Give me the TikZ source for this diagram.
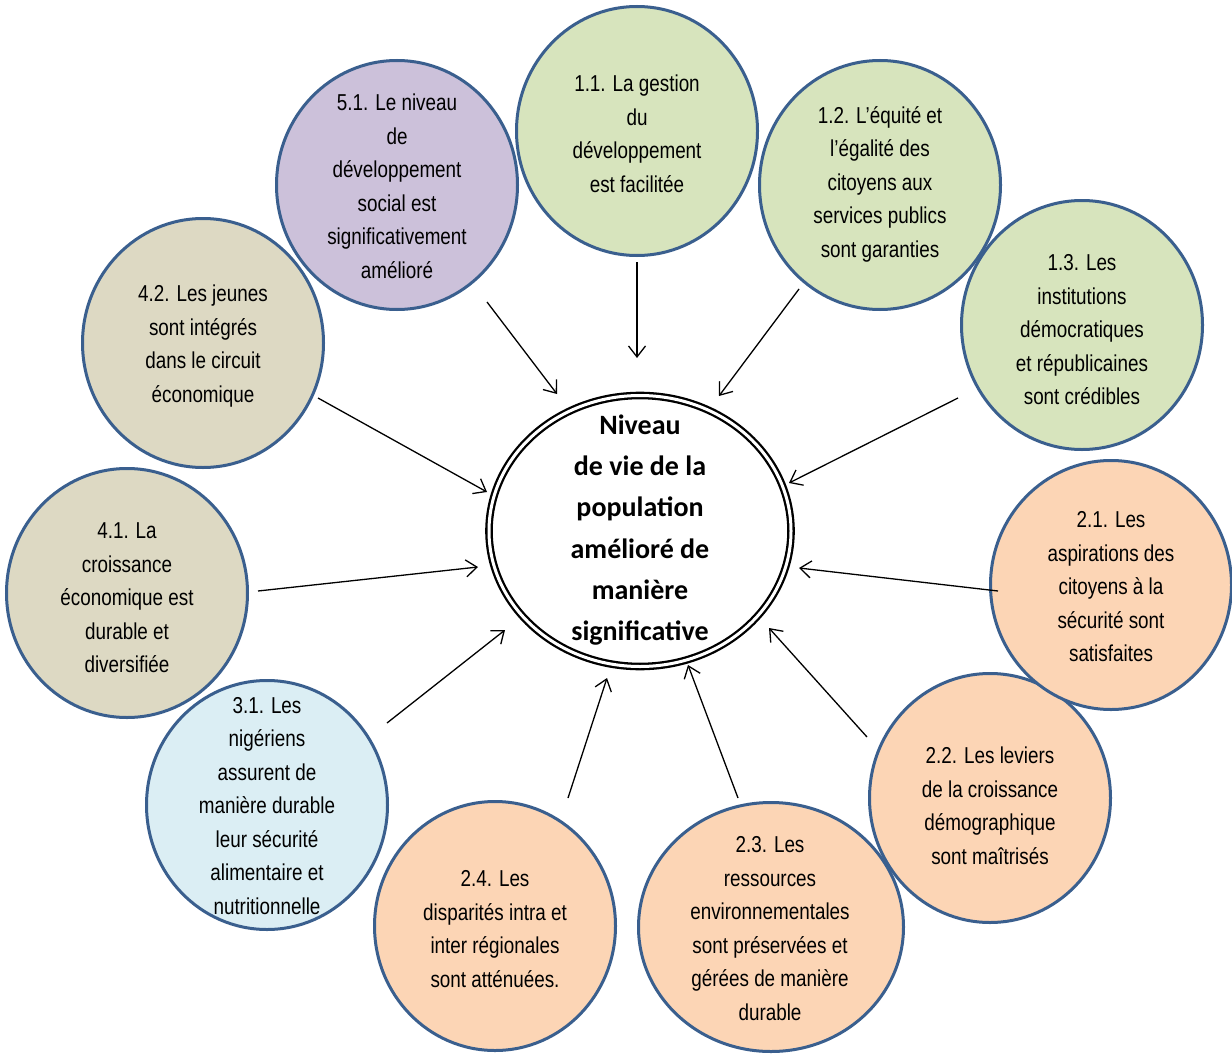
\documentclass[tikz,border=0pt]{standalone}
\usepackage{fontspec}
\setmainfont{Liberation Sans}[FakeStretch=0.82]
\newfontfamily\cfont{Carlito}
\usetikzlibrary{shapes.geometric,arrows.meta}
\definecolor{bord}{HTML}{3A5F8E}
\definecolor{cgreen}{HTML}{D7E4BD}
\definecolor{corange}{HTML}{FCD5B5}
\definecolor{cblue}{HTML}{DBEEF4}
\definecolor{cbeige}{HTML}{DDD9C3}
\definecolor{cpurple}{HTML}{CCC1DA}
\begin{document}
\begin{tikzpicture}[x=1pt,y=-1pt,
  circ/.style={ellipse, draw=bord, line width=3pt, minimum width=241pt, minimum height=249pt, inner sep=0pt},
  txt/.style={align=center, inner sep=0pt, font=\fontsize{23}{33.5}\selectfont},
  ctxt/.style={align=center, inner sep=0pt, font=\cfont\bfseries\fontsize{28}{41.2}\selectfont},
  arr/.style={line width=1.3pt, -{Straight Barb[length=11pt,width=17pt]}}]
\useasboundingbox (0,0) rectangle (1232,1057);
\fill[white] (0,0) rectangle (1232,1057);
% circles
\node[circ, fill=cbeige] (n42) at (203,343) {};
\node[circ, fill=cpurple] (n51) at (397,185) {};
\node[circ, fill=cgreen] (n11) at (637,131) {};
\node[circ, fill=cgreen] (n12) at (880,185) {};
\node[circ, fill=cgreen] (n13) at (1082,325) {};
\node[circ, fill=corange] (n22) at (990,798) {};
\node[circ, fill=corange] (n21) at (1111,585) {};
\node[circ, fill=corange, minimum width=265pt] (n23) at (771,927) {};
\node[circ, fill=corange] (n24) at (495,926) {};
\node[circ, fill=cbeige] (n41) at (127,593) {};
\node[circ, fill=cblue] (n31) at (267,805) {};
% texts
\node[txt] (t11) at (637,135.3) {\strut 1.1. La gestion\\\strut du\\\strut développement\\\strut est facilitée};
\node[txt] (t12) at (880,183.3) {\strut 1.2. L’équité et\\\strut l’égalité des\\\strut citoyens aux\\\strut services publics\\\strut sont garanties};
\node[txt] (t13) at (1082,330.8) {\strut 1.3. Les\\\strut institutions\\\strut démocratiques\\\strut et républicaines\\\strut sont crédibles};
\node[txt] (t21) at (1111,587.8) {\strut 2.1. Les\\\strut aspirations des\\\strut citoyens à la\\\strut sécurité sont\\\strut satisfaites};
\node[txt] (t22) at (990,807.3) {\strut 2.2. Les leviers\\\strut de la croissance\\\strut démographique\\\strut sont maîtrisés};
\node[txt] (t23) at (770,929.8) {\strut 2.3. Les\\\strut ressources\\\strut environnementales\\\strut sont préservées et\\\strut gérées de manière\\\strut durable};
\node[txt] (t24) at (495,930.3) {\strut 2.4. Les\\\strut disparités intra et\\\strut inter régionales\\\strut sont atténuées.};
\node[txt] (t31) at (267,806.8) {\strut 3.1. Les\\\strut nigériens\\\strut assurent de\\\strut manière durable\\\strut leur sécurité\\\strut alimentaire et\\\strut nutritionnelle};
\node[txt] (t41) at (127,598.8) {\strut 4.1. La\\\strut croissance\\\strut économique est\\\strut durable et\\\strut diversifiée};
\node[txt] (t42) at (203,345.3) {\strut 4.2. Les jeunes\\\strut sont intégrés\\\strut dans le circuit\\\strut économique};
\node[txt] (t51) at (397,187.8) {\strut 5.1. Le niveau\\\strut de\\\strut développement\\\strut social est\\\strut significativement\\\strut amélioré};
% centre
\node[ellipse, draw=black, fill=white, double=white, line width=2.3pt, double distance=3pt, minimum width=302pt, minimum height=271pt, inner sep=0pt] (c) at (640,531) {};
\node[ctxt] (tc) at (640,529.3) {\strut Niveau\\\strut de vie de la\\\strut population\\\strut amélioré de\\\strut manière\\\strut significative};
% arrow end points
\coordinate (s11) at (637,262); \coordinate (e11) at (637,358);
\coordinate (s12) at (799,289); \coordinate (e12) at (719,396);
\coordinate (s13) at (958,398); \coordinate (e13) at (789,483);
\coordinate (s21) at (998,591); \coordinate (e21) at (799,568);
\coordinate (s22) at (867,737); \coordinate (e22) at (769,628);
\coordinate (s23) at (738,798); \coordinate (e23) at (688,665);
\coordinate (s24) at (568,798); \coordinate (e24) at (607,678);
\coordinate (s31) at (387,723); \coordinate (e31) at (505,630);
\coordinate (s41) at (258,591); \coordinate (e41) at (478,567);
\coordinate (s42) at (318,398); \coordinate (e42) at (487,492);
\coordinate (s51) at (487,302); \coordinate (e51) at (557,394);
\foreach \k in {11,12,13,21,22,23,24,31,41,42,51}
  \draw[arr] (s\k) -- (e\k);
\end{tikzpicture}
\end{document}
